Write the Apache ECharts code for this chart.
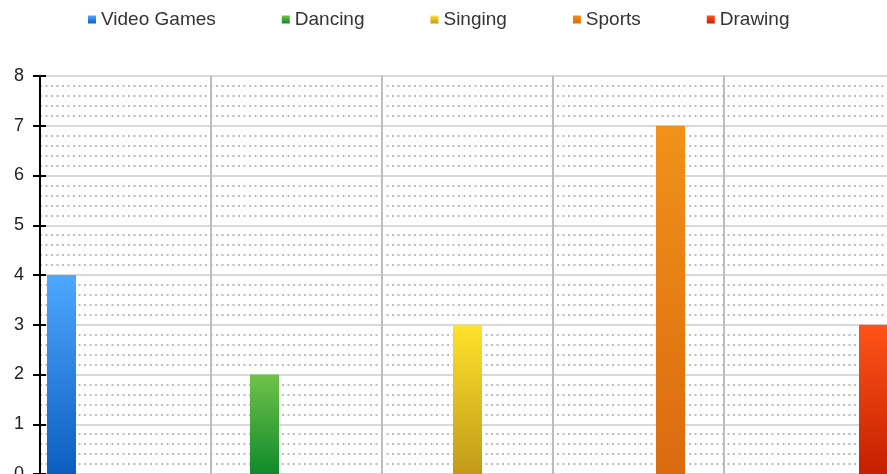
<!DOCTYPE html>
<html>
<head>
<meta charset="utf-8">
<script src="https://cdn.jsdelivr.net/npm/echarts@6/dist/echarts.min.js"></script>
<style>
html,body{margin:0;padding:0;background:#fff;overflow:hidden;}
#chart{width:887px;height:474px;}
</style>
</head>
<body>
<div id="chart"></div>
<script>
var seriesNames = ['Video Games', 'Dancing', 'Singing', 'Sports', 'Drawing'];
var seriesValues = [4, 2, 3, 7, 3];
var category = [''];
var yTicks = [0, 1, 2, 3, 4, 5, 6, 7, 8];

var topColors = ['#4ea8ff', '#6fc24a', '#ffe22c', '#f0921a', '#ff5318'];
var bottomColors = ['#0b5ec0', '#118a2c', '#c29a18', '#dc6a10', '#c42000'];

var FONT = 'Liberation Sans, Arial, sans-serif';
var chart = echarts.init(document.getElementById('chart'));

var series = seriesNames.map(function (name, i) {
  return {
    name: name,
    type: 'bar',
    xAxisIndex: 0,
    yAxisIndex: 0,
    data: [seriesValues[i]],
    barWidth: 29,
    barGap: '600%',
    z: 5,
    itemStyle: {
      color: new echarts.graphic.LinearGradient(0, 0, 0, 1, [
        { offset: 0, color: topColors[i] },
        { offset: 1, color: bottomColors[i] }
      ])
    }
  };
});

chart.setOption({
  animation: false,
  textStyle: { fontFamily: FONT },
  legend: {
    left: 83,
    top: 5,
    itemWidth: 8,
    itemHeight: 8,
    itemGap: 66,
    icon: 'rect',
    textStyle: { fontSize: 19, color: '#333', fontFamily: FONT },
    data: seriesNames
  },
  grid: { left: 40, top: 76, width: 855, height: 398, containLabel: false, outerBoundsMode: 'none' },
  xAxis: [
    {
      type: 'category',
      data: category,
      axisLine: { show: false },
      axisTick: { show: false },
      axisLabel: { show: false },
      splitLine: { show: false }
    },
    {
      type: 'value',
      position: 'bottom',
      min: 0, max: 5, interval: 1,
      axisLine: { show: false },
      axisTick: { show: false },
      axisLabel: { show: false },
      splitLine: { show: true, lineStyle: { color: '#bdbdbd', width: 2 } }
    }
  ],
  yAxis: [
    {
      type: 'value',
      min: yTicks[0], max: yTicks[yTicks.length - 1], interval: 1,
      axisLine: { show: true, lineStyle: { color: '#000', width: 2 } },
      axisTick: { show: true, length: 7, lineStyle: { color: '#000', width: 2 } },
      axisLabel: { fontSize: 18, color: '#222', margin: 16, fontFamily: FONT },
      splitLine: { show: true, lineStyle: { color: '#cccccc', width: 1.5 } },
      minorTick: { show: false, splitNumber: 5 },
      minorSplitLine: { show: true, lineStyle: { color: '#bcbcbc', width: 2, type: [2, 3.5] } }
    },
    {
      type: 'value',
      position: 'left',
      min: yTicks[0], max: yTicks[yTicks.length - 1], interval: 1,
      axisLine: { show: false },
      axisTick: { show: true, inside: true, length: 6, lineStyle: { color: '#000', width: 2 } },
      axisLabel: { show: false },
      splitLine: { show: false }
    }
  ],
  series: series
});
</script>
</body>
</html>
